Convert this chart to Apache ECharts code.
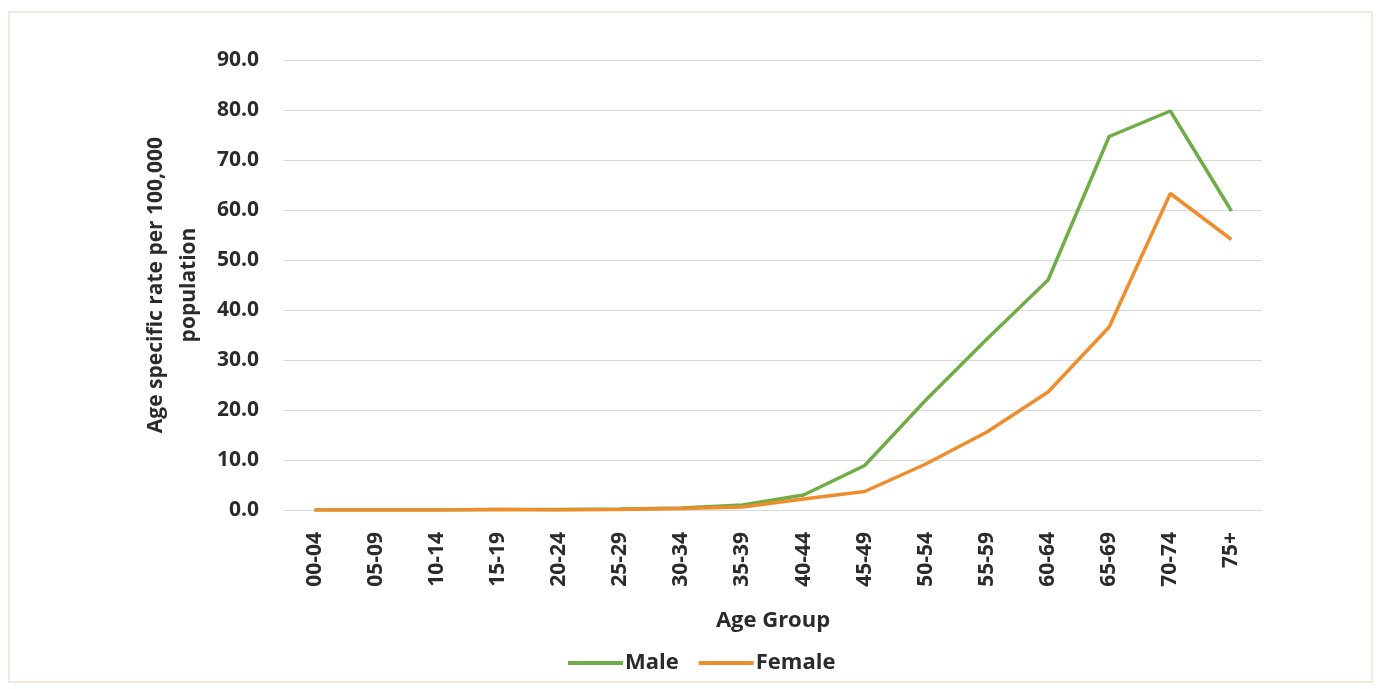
<!DOCTYPE html>
<html><head><meta charset="utf-8">
<script src="https://cdn.jsdelivr.net/npm/echarts@6/dist/echarts.min.js"></script>
<style>
html,body{margin:0;padding:0;background:#fff;}
#frame{position:absolute;left:8px;top:11px;width:1365px;height:672px;border:2px solid #f3e8da;box-sizing:border-box;}
#c{position:absolute;left:0;top:0;width:1380px;height:689px;}
</style></head>
<body>
<div id="frame"></div>
<div id="c"></div>
<script>
const categories = ['00-04','05-09','10-14','15-19','20-24','25-29','30-34','35-39','40-44','45-49','50-54','55-59','60-64','65-69','70-74','75+'];
const maleValues = [0.0, 0.0, 0.0, 0.1, 0.1, 0.2, 0.4, 1.0, 3.0, 8.9, 22.0, 34.2, 46.0, 74.7, 79.8, 59.8];
const femaleValues = [0.0, 0.0, 0.0, 0.1, 0.0, 0.1, 0.3, 0.6, 2.2, 3.7, 9.2, 15.6, 23.6, 36.6, 63.3, 54.1];
const seriesNames = ['Male','Female'];
const yTicks = {min:0, max:90, interval:10};

const font = '"Open Sans", "Noto Sans", sans-serif';
const txt = '#2b2b2b';
const chart = echarts.init(document.getElementById('c'), null, {renderer:'canvas'});
chart.setOption({
  animation:false,
  grid:{left:284, right:118, top:60, bottom:179, containLabel:false},
  xAxis:{
    type:'category', data:categories, boundaryGap:true,
    name:'Age Group', nameLocation:'middle', nameGap:100,
    nameTextStyle:{fontFamily:font, fontWeight:700, fontSize:22, color:txt},
    axisLine:{show:true, lineStyle:{color:'#d9d9d9', width:1}},
    axisTick:{show:false},
    axisLabel:{rotate:90, fontFamily:font, fontWeight:700, fontSize:21, color:txt, margin:22, interval:0}
  },
  yAxis:{
    type:'value', min:yTicks.min, max:yTicks.max, interval:yTicks.interval,
    name:'Age specific rate per 100,000\npopulation', nameLocation:'middle', nameGap:78, nameRotate:90,
    nameTextStyle:{fontFamily:font, fontWeight:700, fontSize:21, color:txt, lineHeight:33, align:'center'},
    axisLine:{show:false}, axisTick:{show:false},
    splitLine:{lineStyle:{color:'#d9d9d9', width:1}},
    axisLabel:{fontFamily:font, fontWeight:700, fontSize:21, color:txt, margin:25,
      formatter:v=>v.toFixed(1)}
  },
  legend:{
    left:563, top:647, itemWidth:55, itemHeight:4, itemGap:20,
    icon:'rect',
    textStyle:{fontFamily:font, fontWeight:700, fontSize:22, color:txt, padding:[0,0,0,-3]},
    data:seriesNames
  },
  series:[
    {name:seriesNames[0], type:'line', data:maleValues, symbol:'none', lineStyle:{color:'#70ad47', width:3.5}, itemStyle:{color:'#70ad47'}},
    {name:seriesNames[1], type:'line', data:femaleValues, symbol:'none', lineStyle:{color:'#ef8c2c', width:3.5}, itemStyle:{color:'#ef8c2c'}}
  ]
});
</script>
</body></html>
